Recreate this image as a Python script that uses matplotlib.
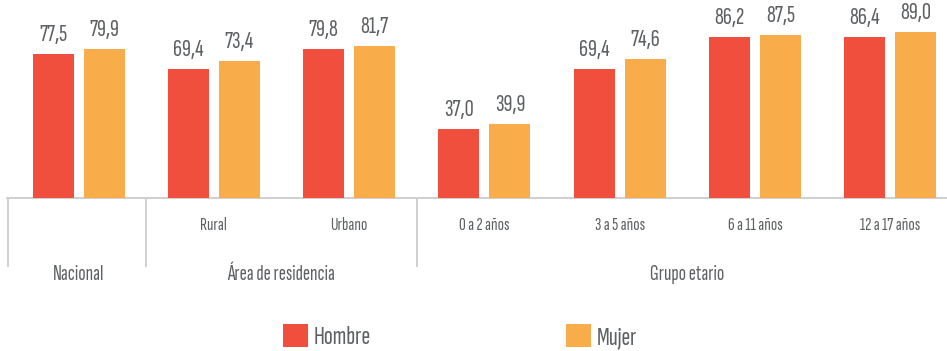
import matplotlib
matplotlib.use("Agg")
import matplotlib.pyplot as plt
from matplotlib.patches import Patch
from matplotlib.lines import Line2D

plt.rcParams["font.family"] = ["Sofia Sans Extra Condensed", "DejaVu Sans"]
plt.rcParams["font.weight"] = 500

# Porcentajes por sexo
categorias = ["Nacional", "Rural", "Urbano", "0 a 2 años", "3 a 5 años", "6 a 11 años", "12 a 17 años"]
grupos = ["Nacional", "Área de residencia", "Grupo etario"]
grupo_de = [0, 1, 1, 2, 2, 2, 2]
hombre = [77.5, 69.4, 79.8, 37.0, 69.4, 86.2, 86.4]
mujer = [79.9, 73.4, 81.7, 39.9, 74.6, 87.5, 89.0]
series = ["Hombre", "Mujer"]

ROJO = "#F04F3E"
NARANJA = "#F9AC4A"
GRIS_TEXTO = "#5E6163"
GRIS_LINEA = "#D0D0D0"

W, H, DPI = 947, 351, 100
fig = plt.figure(figsize=(W / DPI, H / DPI), dpi=DPI)

# axes placed in pixel terms: bars stand on a baseline 198 px from the top
px_x0, px_base = 6.7, 198.0
ax = fig.add_axes([px_x0 / W, (H - px_base) / H, 1 - px_x0 / W, px_base / H])

paso = 135.3          # px between category centres
origen = 78.5         # px of first category centre
escala = 1.862        # px per percentage point
ax.set_xlim((px_x0 - origen) / paso, (W - origen) / paso)
ax.set_ylim(0, px_base / escala)

x = list(range(len(categorias)))
ancho = 41 / paso
desp = 25.5 / paso

b1 = ax.bar([i - desp for i in x], hombre, width=ancho, color=ROJO, zorder=2)
b2 = ax.bar([i + desp for i in x], mujer, width=ancho, color=NARANJA, zorder=2)

fmt = lambda v: f"{v:.1f}".replace(".", ",")
for barras, vals in ((b1, hombre), (b2, mujer)):
    for rect, v in zip(barras, vals):
        ax.annotate(fmt(v), (rect.get_x() + rect.get_width() / 2, v),
                    xytext=(0, 13 * 72 / DPI), textcoords="offset points",
                    ha="center", va="baseline", fontsize=18, color=GRIS_TEXTO)

for s in ("top", "right", "left"):
    ax.spines[s].set_visible(False)
ax.spines["bottom"].set_color(GRIS_LINEA)
ax.spines["bottom"].set_linewidth(2 * 72 / DPI)
ax.spines["bottom"].set_zorder(1)
ax.set_yticks([])

# category ticks: single-member groups carry their name on the group row
miembros = [[i for i, g in enumerate(grupo_de) if g == k] for k in range(len(grupos))]
etiquetas = [c if len(miembros[g]) > 1 else "" for c, g in zip(categorias, grupo_de)]
ax.set_xticks(x, etiquetas)
ax.tick_params(axis="x", length=0, pad=32 * 72 / DPI, labelsize=13.5, labelcolor=GRIS_TEXTO)
for t in ax.get_xticklabels():
    t.set_verticalalignment("baseline")

# separators between groups
prof = 69 / escala
bordes = [ax.get_xlim()[0] + 1 / paso] + [max(m) + 0.5 for m in miembros[:-1]]
for bx in bordes:
    ax.add_line(Line2D([bx, bx], [0, -prof], color=GRIS_LINEA, lw=2 * 72 / DPI,
                       clip_on=False, solid_capstyle="butt"))

# group names
y_grupo = -82.5 / escala
for k, nombre in enumerate(grupos):
    cx = sum(miembros[k]) / len(miembros[k])
    ax.text(cx, y_grupo, nombre, ha="center", va="baseline", fontsize=15.5,
            color=GRIS_TEXTO, clip_on=False)

# legend
fs_leg = 19
em = fs_leg * DPI / 72
handles = [Patch(facecolor=ROJO, edgecolor="none"), Patch(facecolor=NARANJA, edgecolor="none")]
leg = fig.legend(handles, series, loc="center left", bbox_to_anchor=(283 / W, (H - 336.5) / H),
                 ncol=2, frameon=False, fontsize=fs_leg, borderpad=0, borderaxespad=0,
                 handlelength=25 / em, handleheight=25 / em, handletextpad=6 / em,
                 columnspacing=195 / em, labelcolor=GRIS_TEXTO)

fig.savefig("out.png", dpi=DPI)
